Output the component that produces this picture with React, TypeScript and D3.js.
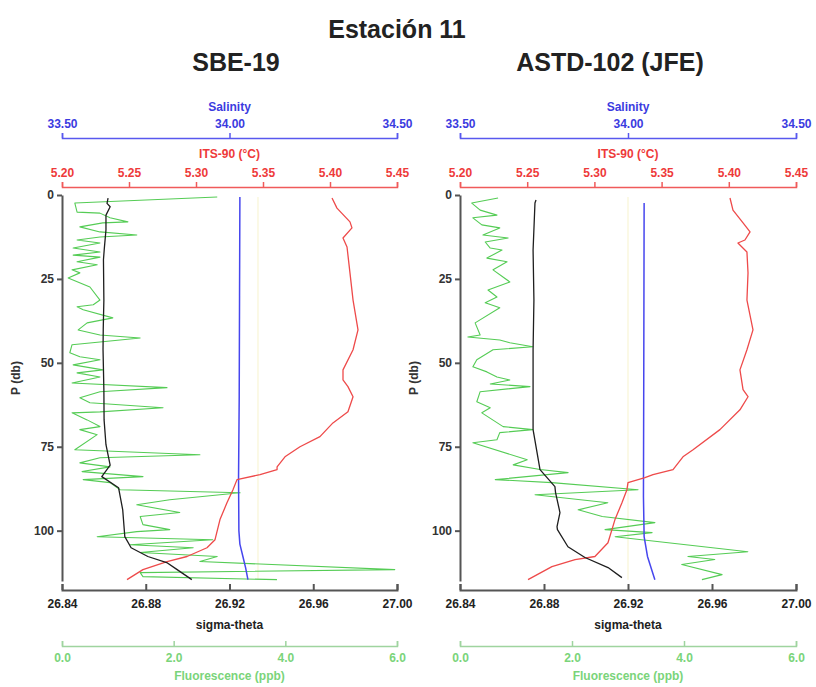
import React, { useEffect, useRef } from "react";
import * as d3 from "d3";

// every point is [pressure (db), value]
type Pt = [number, number];

const depthTicks = [0, 25, 50, 75, 100];
const salinityTicks = [33.5, 34.0, 34.5];
const tempTicks = [5.2, 5.25, 5.3, 5.35, 5.4, 5.45];
const sigmaTicks = [26.84, 26.88, 26.92, 26.96, 27.0];
const fluoTicks = [0, 2, 4, 6];

// ---- SBE-19 ----
const sbeSigma: Pt[] = [
  [0.9, 26.862], [2.5, 26.8615], [3.5, 26.863], [6, 26.861], [10.4, 26.861], [16, 26.8602],
  [19.3, 26.8598], [31.3, 26.86], [40, 26.8597], [46.1, 26.8596], [58, 26.86], [67, 26.8601],
  [74.4, 26.861], [80.5, 26.863], [83.9, 26.859], [87.2, 26.867], [93.8, 26.869],
  [101.8, 26.870], [105.1, 26.873], [107.7, 26.881], [109.5, 26.890], [111.6, 26.895], [114.6, 26.902],
];
const sbeSalinity: Pt[] = [
  [0.6, 34.031], [30, 34.030], [60, 34.029], [84, 34.027], [100, 34.028],
  [104, 34.031], [107.7, 34.040], [111, 34.048], [114.6, 34.055],
];
const sbeTemp: Pt[] = [
  [0.9, 5.4015], [3.9, 5.4052], [8.0, 5.4149], [9.8, 5.4164], [12.8, 5.4097], [15.5, 5.4127],
  [23.2, 5.4149], [31.3, 5.4172], [40.2, 5.4209], [46.1, 5.4172], [52.1, 5.4097], [55.1, 5.4097],
  [57.1, 5.4134], [60.1, 5.4172], [64.6, 5.4134], [67.9, 5.4022], [72.0, 5.3925], [75.0, 5.3776],
  [78.0, 5.3664], [81.0, 5.3605], [81.8, 5.3605], [83.3, 5.3478], [84.8, 5.3306], [87.8, 5.3276],
  [91.7, 5.3231], [96.7, 5.3179], [102.7, 5.3142], [105.1, 5.3082], [107.7, 5.2933],
  [109.2, 5.2784], [111.6, 5.2604], [114.6, 5.2485],
];
const sbeFluo: Pt[] = [
  [0.6, 2.78], [2.4, 0.23], [5.1, 0.27], [5.4, 0.68], [6.8, 0.86], [8.0, 1.18], [8.3, 0.73],
  [9.5, 0.32], [11.0, 0.68], [11.9, 1.34], [12.5, 0.68], [13.4, 0.27], [14.3, 0.68], [15.8, 0.2],
  [17.0, 0.68], [17.9, 0.2], [18.5, 0.68], [19.9, 0.27], [20.8, 0.63], [22.3, 0.18], [23.2, 0.32],
  [24.7, 0.11], [27.4, 0.5], [31.3, 0.68], [32.7, 0.56], [33.3, 0.27], [34.2, 0.38], [36.6, 0.91],
  [38.1, 0.45], [40.2, 0.29], [41.7, 0.68], [42.6, 1.4], [43.8, 0.68], [44.6, 0.18], [47.0, 0.14],
  [48.2, 0.32], [49.1, 0.68], [50.6, 0.2], [52.1, 0.73], [53.0, 0.27], [54.2, 0.68], [56.0, 0.18],
  [57.4, 1.88], [58.6, 0.68], [60.4, 0.32], [61.9, 0.5], [63.4, 1.81], [64.6, 0.68], [64.9, 0.18],
  [67.0, 0.45], [69.0, 0.68], [69.9, 0.32], [71.4, 0.63], [75.9, 0.23], [77.4, 2.47], [78.3, 0.68],
  [79.8, 0.32], [81.0, 0.86], [82.4, 0.36], [83.9, 1.45], [84.8, 0.38], [85.7, 0.86], [87.8, 1.04],
  [88.7, 3.19], [90.8, 1.93], [92.3, 1.34], [94.6, 2.11], [95.8, 1.4], [98.2, 1.45], [99.7, 1.93],
  [100.3, 1.34], [101.8, 0.63], [102.7, 2.7], [104.2, 1.22], [105.1, 2.35], [106.5, 1.4],
  [107.7, 2.78], [109.2, 2.47], [111.6, 5.96], [112.5, 1.4], [113.7, 1.45], [114.6, 3.85],
];
const sbeFaint: Pt[] = [[0.6, 34.085], [114.6, 34.085]];

// ---- ASTD-102 (JFE) ----
const astdSigma: Pt[] = [
  [1.5, 26.8762], [2.4, 26.8757], [16.4, 26.8748], [31.3, 26.8752], [46.1, 26.8748], [58, 26.8748],
  [69.9, 26.8748], [81.8, 26.8781], [86.9, 26.8852], [88.7, 26.8855], [94.6, 26.8876],
  [98.8, 26.8862], [99.7, 26.8864], [104.8, 26.8914], [108, 26.8995], [111, 26.9105], [114, 26.9171],
];
const astdSalinity: Pt[] = [
  [2.4, 34.048], [50, 34.047], [90, 34.046], [101.8, 34.048], [107.7, 34.058], [111.5, 34.07], [114.6, 34.08],
];
const astdTemp: Pt[] = [
  [0.9, 5.4009], [4.5, 5.4031], [8.3, 5.4106], [11.0, 5.4158], [13.4, 5.412], [14.3, 5.4068],
  [17.0, 5.4135], [23.2, 5.4143], [31.3, 5.4135], [40.2, 5.418], [46.1, 5.4135], [52.1, 5.4083],
  [58.0, 5.4106], [60.1, 5.4143], [64.0, 5.4083], [69.9, 5.3934], [75.9, 5.3734], [78.0, 5.3659],
  [81.8, 5.3585], [83.3, 5.3436], [84.2, 5.3376], [85.7, 5.325], [87.8, 5.3242], [91.7, 5.3205],
  [96.7, 5.3153], [103.6, 5.3101], [107.7, 5.3004], [108.6, 5.2856], [110.7, 5.2684], [114.6, 5.2506],
];
const astdFluo: Pt[] = [
  [0.9, 0.68], [2.4, 0.21], [4.5, 0.36], [6.0, 0.66], [6.8, 0.23], [8.9, 0.39], [9.8, 0.71],
  [11.9, 0.41], [12.8, 0.86], [14.0, 0.45], [15.8, 0.54], [16.4, 0.75], [18.8, 0.48], [19.9, 0.84],
  [22.3, 0.59], [25.9, 0.89], [28.3, 0.5], [30.4, 0.66], [32.1, 0.45], [33.6, 0.71], [38.1, 0.27],
  [41.7, 0.36], [42.3, 0.14], [43.2, 0.71], [44.0, 0.89], [45.2, 1.3], [46.1, 0.59], [49.1, 0.3],
  [51.2, 0.23], [52.7, 0.48], [54.2, 0.66], [55.1, 0.89], [56.3, 0.54], [57.1, 1.25], [58.6, 0.36],
  [61.6, 0.3], [63.4, 0.54], [64.9, 0.39], [69.0, 0.77], [69.9, 1.3], [70.8, 0.71], [72.9, 0.66],
  [73.8, 0.23], [78.9, 1.2], [80.4, 0.95], [81.8, 1.43], [82.7, 1.93], [84.8, 0.63], [85.7, 1.64],
  [87.8, 3.18], [89.3, 1.34], [91.7, 2.64], [93.8, 2.11], [95.8, 2.54], [97.6, 3.48], [99.7, 2.59],
  [100.6, 3.43], [101.8, 2.77], [106.3, 5.14], [107.7, 4.07], [108.6, 4.55], [110.1, 3.96],
  [113.1, 4.68], [114.6, 4.32],
];
const astdFaint: Pt[] = [[0.6, 34.0], [114.6, 34.0]];

const panels = [
  { title: "SBE-19", titleX: 236, left: 62, right: 397, sigma: sbeSigma, sal: sbeSalinity, temp: sbeTemp, fluo: sbeFluo, faint: sbeFaint },
  { title: "ASTD-102 (JFE)", titleX: 610, left: 460, right: 796, sigma: astdSigma, sal: astdSalinity, temp: astdTemp, fluo: astdFluo, faint: astdFaint },
];

const FONT = "'Liberation Sans', Arial, Helvetica, sans-serif";

const styleAxis = (g: any, lineColor: string, textColor: string, width = 1.5) => {
  g.attr("font-family", null).attr("font-size", null);
  g.select(".domain").attr("stroke", lineColor).attr("stroke-width", width);
  g.selectAll(".tick line").attr("stroke", lineColor).attr("stroke-width", width);
  g.selectAll(".tick text")
    .attr("fill", textColor)
    .style("font-family", FONT)
    .style("font-size", "12px")
    .style("font-weight", "bold");
};

const label = (svg: any, x: number, y: number, txt: string, color: string, size = 12, rotate = false) => {
  const t = svg.append("text")
    .attr("x", x)
    .attr("y", y)
    .attr("text-anchor", "middle")
    .attr("fill", color)
    .style("font-family", FONT)
    .style("font-size", `${size}px`)
    .style("font-weight", "bold")
    .text(txt);
  if (rotate) t.attr("transform", `rotate(-90, ${x}, ${y})`);
  return t;
};

export default function App() {
  const ref = useRef<SVGSVGElement>(null);

  useEffect(() => {
    if (!ref.current) return;
    const svg = d3.select(ref.current);
    svg.selectAll("*").remove();

    label(svg, 397, 38, "Estación 11", "#222", 25);

    const y = d3.scaleLinear().domain([0, 115]).range([195, 581]);

    panels.forEach((p) => {
      const xSal = d3.scaleLinear().domain([33.5, 34.5]).range([p.left, p.right]);
      const xT = d3.scaleLinear().domain([5.2, 5.45]).range([p.left, p.right]);
      const xSig = d3.scaleLinear().domain([26.84, 27.0]).range([p.left, p.right]);
      const xF = d3.scaleLinear().domain([0, 6]).range([p.left, p.right]);
      const mid = (p.left + p.right) / 2;

      label(svg, p.titleX, 71, p.title, "#222", 25);

      // top axes
      const salAxis = svg.append("g").attr("transform", "translate(0,138)")
        .call(d3.axisTop(xSal).tickValues(salinityTicks).tickFormat(d3.format(".2f")).tickSize(5).tickPadding(5));
      styleAxis(salAxis, "#5858ee", "#3b3be0");
      label(svg, mid, 111, "Salinity", "#3b3be0");

      const tAxis = svg.append("g").attr("transform", "translate(0,187)")
        .call(d3.axisTop(xT).tickValues(tempTicks).tickFormat(d3.format(".2f")).tickSize(5).tickPadding(5));
      styleAxis(tAxis, "#f05a5a", "#ee3a3a");
      label(svg, mid, 158, "ITS-90 (°C)", "#ee3a3a");

      // bottom axes
      const sAxis = svg.append("g").attr("transform", "translate(0,590)")
        .call(d3.axisBottom(xSig).tickValues(sigmaTicks).tickFormat(d3.format(".2f")).tickSize(-6).tickPadding(9));
      styleAxis(sAxis, "#555", "#222", 2);
      label(svg, mid, 629, "sigma-theta", "#222");

      const fAxis = svg.append("g").attr("transform", "translate(0,646)")
        .call(d3.axisBottom(xF).tickValues(fluoTicks).tickFormat(d3.format(".1f")).tickSize(-5).tickPadding(7));
      styleAxis(fAxis, "#9fd49f", "#7ad47a");
      label(svg, mid, 680, "Fluorescence (ppb)", "#7ad47a");

      // pressure axis
      const yAxis = svg.append("g").attr("transform", `translate(${p.left},0)`)
        .call(d3.axisLeft(y).tickValues(depthTicks).tickSizeInner(5).tickSizeOuter(0).tickPadding(3));
      styleAxis(yAxis, "#555", "#333", 2);
      label(svg, p.left - 42, 378, "P (db)", "#333", 12, true);

      const draw = (data: Pt[], x: any, color: string, w: number) => {
        svg.append("path")
          .datum(data)
          .attr("fill", "none")
          .attr("stroke", color)
          .attr("stroke-width", w)
          .attr("stroke-linejoin", "round")
          .attr("d", d3.line<Pt>().x((d) => x(d[1])).y((d) => y(d[0])));
      };

      draw(p.faint, xSal, "#f8f5d6", 1.2);
      draw(p.fluo, xF, "#55cc55", 1.1);
      draw(p.sal, xSal, "#4646ee", 1.5);
      draw(p.temp, xT, "#ee4a4a", 1.3);
      draw(p.sigma, xSig, "#1e1e1e", 1.3);
    });
  }, []);

  return (
    <svg
      ref={ref}
      width={816}
      height={687}
      style={{ position: "absolute", left: 0, top: 0, background: "#fff" }}
    ></svg>
  );
}
